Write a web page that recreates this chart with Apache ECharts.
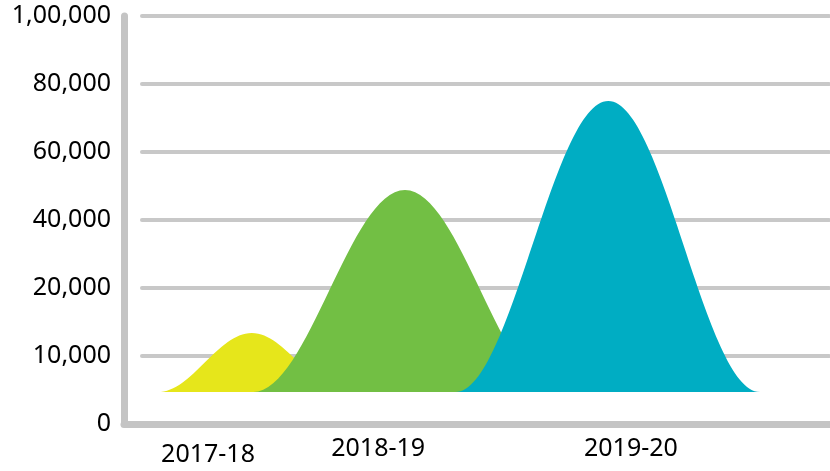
<!DOCTYPE html>
<html>
<head>
<meta charset="utf-8">
<script src="https://cdn.jsdelivr.net/npm/echarts@6/dist/echarts.min.js"></script>
<style>
    html, body { margin: 0; padding: 0; background: #fff; }
    #chart { width: 830px; height: 471px; }
</style>
</head>
<body>
<div id="chart"></div>
<script>
// tick values are evenly spaced on the axis even though the steps differ
const yTickValues = [0, 10000, 20000, 40000, 60000, 80000, 100000];
const yTickLabels = ['0', '10,000', '20,000', '40,000', '60,000', '80,000', '1,00,000'];

const years = ['2017-18', '2018-19', '2019-20'];
const yearLabelAt = [11.9, 36.0, 71.8];   // x position of each year label (0-100 scale)

// each bell: where it starts, peaks and ends on the 0-100 x scale
const bellStart = [4.8, 18.3, 47.0];
const bellPeak = [18.1, 39.8, 68.6];
const bellEnd = [31.4, 61.3, 90.1];
const peakValues = [13400, 48800, 75000];
const baseValue = 4700;

const bellColors = ['#e6e61b', '#72bf44', '#00adc3'];

// real value -> position on the evenly spaced tick axis
function toPos(v) {
    for (let i = 0; i < yTickValues.length - 1; i++) {
        if (v <= yTickValues[i + 1]) {
            return i + (v - yTickValues[i]) / (yTickValues[i + 1] - yTickValues[i]);
        }
    }
    return yTickValues.length - 1;
}

const bellData = years.map((y, i) => ({
    value: [bellStart[i], bellPeak[i], bellEnd[i], toPos(peakValues[i]), toPos(baseValue)],
    itemStyle: {color: bellColors[i]}
}));

const chart = echarts.init(document.getElementById('chart'));

const k = 0.364; // control point ratio, close to a cosine bell

const option = {
    animation: false,
    grid: [
        {left: 124, right: 0, top: 16, bottom: 47},
        {left: 142, right: 1, top: 16, bottom: 47}
    ],
    xAxis: [
        {
            type: 'value',
            gridIndex: 0,
            min: 0,
            max: 100,
            splitLine: {show: false},
            axisTick: {show: false},
            axisLine: {
                show: true,
                lineStyle: {color: '#c4c4c4', width: 7, cap: 'round'}
            },
            axisLabel: {
                customValues: yearLabelAt,
                margin: 12,
                color: '#000',
                fontFamily: 'Noto Sans',
                fontSize: 25,
                formatter: function(v) {
                    const i = yearLabelAt.indexOf(v);
                    if (i === 0) return '{low|' + years[i] + '}';
                    return i >= 0 ? years[i] : '';
                },
                rich: {
                    low: {
                        padding: [6, 0, 0, 0],
                        color: '#000',
                        fontFamily: 'Noto Sans',
                        fontSize: 25
                    }
                }
            }
        },
        {
            type: 'value',
            gridIndex: 1,
            min: 0,
            max: 100,
            show: false
        }
    ],
    yAxis: [
        {
            type: 'value',
            gridIndex: 0,
            min: 0,
            max: 6,
            interval: 1,
            splitLine: {show: false},
            axisTick: {show: false},
            axisLine: {
                show: true,
                lineStyle: {color: '#c4c4c4', width: 7, cap: 'round'}
            },
            axisLabel: {
                margin: 13,
                color: '#000',
                fontFamily: 'Noto Sans',
                fontSize: 25,
                formatter: function(v) {
                    return yTickLabels[v];
                }
            }
        },
        {
            type: 'value',
            gridIndex: 1,
            min: 0,
            max: 6,
            interval: 1,
            axisLine: {show: false},
            axisTick: {show: false},
            axisLabel: {show: false},
            splitLine: {
                show: true,
                showMinLine: false,
                lineStyle: {color: '#c8c8c8', width: 4, cap: 'round'}
            }
        }
    ],
    series: [
        {
            type: 'custom',
            xAxisIndex: 0,
            yAxisIndex: 0,
            clip: false,
            data: bellData,
            renderItem: function(params, api) {
                const s = api.coord([api.value(0), api.value(4)]);
                const p = api.coord([api.value(1), api.value(3)]);
                const e = api.coord([api.value(2), api.value(4)]);
                const wl = p[0] - s[0];
                const wr = e[0] - p[0];
                const d = 'M' + s[0] + ' ' + s[1] +
                    ' C' + (s[0] + k * wl) + ' ' + s[1] + ' ' + (p[0] - k * wl) + ' ' + p[1] + ' ' + p[0] + ' ' + p[1] +
                    ' C' + (p[0] + k * wr) + ' ' + p[1] + ' ' + (e[0] - k * wr) + ' ' + e[1] + ' ' + e[0] + ' ' + e[1] +
                    ' Z';
                return {
                    type: 'path',
                    shape: {pathData: d},
                    style: {fill: api.visual('color')}
                };
            }
        }
    ]
};

chart.setOption(option);
</script>
</body>
</html>
